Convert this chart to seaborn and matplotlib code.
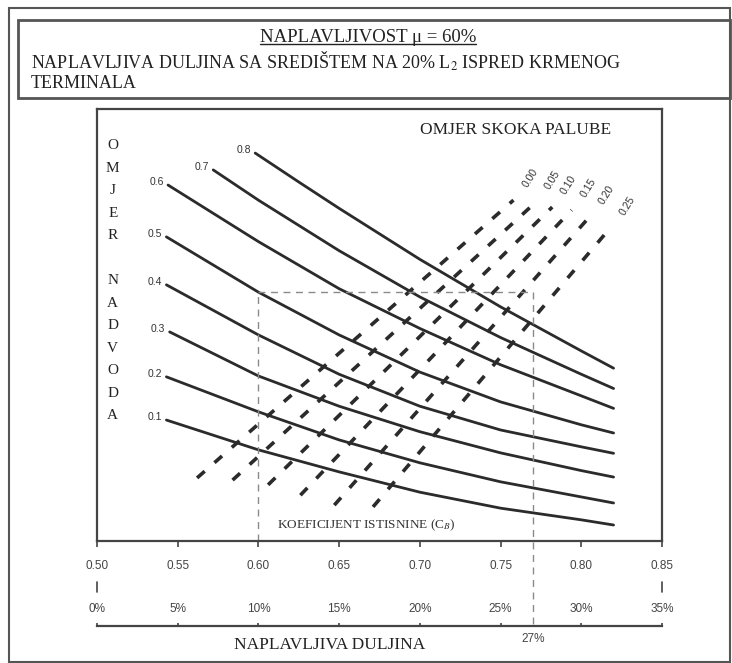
import numpy as np
import pandas as pd
import matplotlib
matplotlib.use("Agg")
import matplotlib.pyplot as plt
from matplotlib.patches import Rectangle
from matplotlib.lines import Line2D
import seaborn as sns

# krivulje omjera nadvoda (freeboard ratio): Cb vs. unlabelled vertical scale 0..1
cb_01 = [0.543, 0.60, 0.65, 0.70, 0.75, 0.80, 0.82]
h_01 = [0.280, 0.211, 0.160, 0.113, 0.076, 0.049, 0.037]
cb_02 = [0.543, 0.60, 0.65, 0.70, 0.75, 0.80, 0.82]
h_02 = [0.380, 0.299, 0.234, 0.181, 0.137, 0.102, 0.088]
cb_03 = [0.545, 0.60, 0.65, 0.70, 0.75, 0.80, 0.82]
h_03 = [0.484, 0.382, 0.312, 0.253, 0.204, 0.163, 0.148]
cb_04 = [0.543, 0.60, 0.65, 0.70, 0.75, 0.80, 0.82]
h_04 = [0.593, 0.477, 0.386, 0.312, 0.257, 0.218, 0.203]
cb_05 = [0.543, 0.60, 0.65, 0.70, 0.75, 0.80, 0.82]
h_05 = [0.704, 0.576, 0.477, 0.391, 0.322, 0.269, 0.250]
cb_06 = [0.544, 0.60, 0.65, 0.70, 0.75, 0.80, 0.82]
h_06 = [0.824, 0.693, 0.584, 0.492, 0.408, 0.336, 0.307]
cb_07 = [0.572, 0.60, 0.65, 0.70, 0.75, 0.80, 0.82]
h_07 = [0.859, 0.789, 0.672, 0.565, 0.471, 0.386, 0.353]
cb_08 = [0.598, 0.625, 0.65, 0.70, 0.75, 0.80, 0.82]
h_08 = [0.898, 0.831, 0.770, 0.652, 0.542, 0.440, 0.400]
freeboard_labels = ['0.1', '0.2', '0.3', '0.4', '0.5', '0.6', '0.7', '0.8']

# omjer skoka palube (sheer ratio) - dashed lines, lower and upper ends
sheer_labels = ['0.00', '0.05', '0.10', '0.15', '0.20', '0.25']
sheer_cb_low = [0.562, 0.584, 0.606, 0.626, 0.647, 0.671]
sheer_h_low = [0.146, 0.141, 0.130, 0.106, 0.083, 0.079]
sheer_cb_high = [0.758, 0.772, 0.782, 0.794, 0.805, 0.818]
sheer_h_high = [0.789, 0.785, 0.773, 0.766, 0.750, 0.725]

# primjer ocitanja
cb_example = 0.60
h_example = 0.576
cb_result = 0.77
result_label = '27%'

cb_ticks = [0.50, 0.55, 0.60, 0.65, 0.70, 0.75, 0.80, 0.85]
cb_tick_labels = ['0.50', '0.55', '0.60', '0.65', '0.70', '0.75', '0.80', '0.85']
pct_ticks = [0, 5, 10, 15, 20, 25, 30, 35]
pct_tick_labels = ['0%', '5%', '10%', '15%', '20%', '25%', '30%', '35%']

all_cb = [cb_01, cb_02, cb_03, cb_04, cb_05, cb_06, cb_07, cb_08]
all_h = [h_01, h_02, h_03, h_04, h_05, h_06, h_07, h_08]
curves = pd.concat([pd.DataFrame({'cb': c, 'h': h, 'omjer': lab})
                    for c, h, lab in zip(all_cb, all_h, freeboard_labels)],
                   ignore_index=True)

sns.set_theme(style="white")
plt.rcParams['font.family'] = ['Liberation Serif', 'DejaVu Serif']
plt.rcParams['mathtext.fontset'] = 'stix'

W, H = 732, 663
fig = plt.figure(figsize=(W / 100, H / 100), dpi=100)
ax = fig.add_axes([97 / W, 1 - 541 / H, 565 / W, 432 / H])

ink = '#2b2b2b'
sns.lineplot(data=curves, x='cb', y='h', units='omjer', estimator=None,
             color=ink, lw=2.0, ax=ax, legend=False)

for i, lab in enumerate(freeboard_labels):
    ax.annotate(lab, (all_cb[i][0], all_h[i][0]), xytext=(-3, 2),
                textcoords='offset points', ha='right', va='center',
                fontsize=7.5, family=['Liberation Sans'], color='#333')

for i, lab in enumerate(sheer_labels):
    ax.plot([sheer_cb_low[i], sheer_cb_high[i]], [sheer_h_low[i], sheer_h_high[i]],
            color=ink, lw=2.6, dashes=(2.8, 3.6), dash_capstyle='butt')
    ax.annotate(lab, (sheer_cb_high[i], sheer_h_high[i]), xytext=(12, 16),
                textcoords='offset points', ha='center', va='center',
                rotation=58, fontsize=7.5, family=['Liberation Sans'], color='#333')

ref = dict(color='#8a8a8a', lw=1.0, dashes=(5, 4))
ax.plot([cb_example, cb_example], [0, h_example], **ref)
ax.plot([cb_example, cb_result], [h_example, h_example], **ref)
ax.plot([cb_result, cb_result], [h_example, -0.202], clip_on=False, **ref)

ax.set_xlim(0.50, 0.85)
ax.set_ylim(0, 1)
ax.set_xlabel('')
ax.set_ylabel('')
ax.set_yticks([])
ax.set_xticks(cb_ticks, labels=cb_tick_labels)
ax.tick_params(axis='x', direction='out', length=4, width=1.2, color='#444',
               pad=10, labelsize=8.5, labelcolor='#444', bottom=True)
for lbl in ax.get_xticklabels():
    lbl.set_family(['Liberation Sans'])
for s in ax.spines.values():
    s.set_color('#444')
    s.set_linewidth(1.6)

sec = ax.secondary_xaxis(-0.197, functions=(lambda c: (c - 0.5) * 100,
                                            lambda p: p / 100 + 0.5))
sec.set_alignment('top')
sec.set_xticks(pct_ticks, labels=pct_tick_labels)
sec.tick_params(axis='x', direction='out', length=2, width=1.2, color='#444',
                pad=6, labelsize=8.5, labelcolor='#444')
for lbl in sec.get_xticklabels():
    lbl.set_family(['Liberation Sans'])
sec.spines['top'].set_color('#444')
sec.spines['top'].set_linewidth(1.6)

for c in [cb_ticks[0], cb_ticks[-1]]:
    ax.plot([c, c], [-0.095, -0.118], color='#444', lw=1.2, clip_on=False)

ax.text(cb_result, -0.228, result_label, ha='center', va='center', fontsize=8.5,
        family=['Liberation Sans'], color='#444')
ax.text(0.644, -0.24, 'NAPLAVLJIVA DULJINA', ha='center', va='center',
        fontsize=12.5, color='#222')
ax.text(0.667, 0.037, 'KOEFICIJENT ISTISNINE (C$_B$)', ha='center', va='center',
        fontsize=9.5, color='#333')
ax.text(0.759, 0.951, 'OMJER SKOKA PALUBE', ha='center', va='center',
        fontsize=12.5, color='#222')
ax.text(0.028, 0.603, '\n'.join('OMJER NADVODA'), transform=ax.transAxes,
        ha='center', va='center', fontsize=11, linespacing=1.95, color='#222')

# header
def fx(px):
    return px / W


def fy(py):
    return 1 - py / H


fig.patches.append(Rectangle((fx(9), fy(662)), fx(730) - fx(9), fy(8) - fy(662),
                             transform=fig.transFigure, fill=False, ec='#555', lw=1.5))
fig.patches.append(Rectangle((fx(18), fy(98)), fx(730) - fx(18), fy(20) - fy(98),
                             transform=fig.transFigure, fill=False, ec='#555', lw=2.0))
title = fig.text(fx(368), fy(37), 'NAPLAVLJIVOST μ = 60%', ha='center', va='center',
                 fontsize=13.5, color='#222')
fig.text(fx(31), fy(61), 'NAPLAVLJIVA DULJINA SA SREDIŠTEM NA 20% L$_2$ ISPRED KRMENOG',
         ha='left', va='center', fontsize=13, color='#222')
fig.text(fx(31), fy(83), 'TERMINALA', ha='left', va='center', fontsize=13, color='#222')

fig.canvas.draw()
bb = title.get_window_extent().transformed(fig.transFigure.inverted())
fig.lines.append(Line2D([bb.x0, bb.x1], [bb.y0 + 0.002, bb.y0 + 0.002],
                        transform=fig.transFigure, color='#222', lw=1.0))

fig.savefig('out.png', dpi=100, facecolor='white')
